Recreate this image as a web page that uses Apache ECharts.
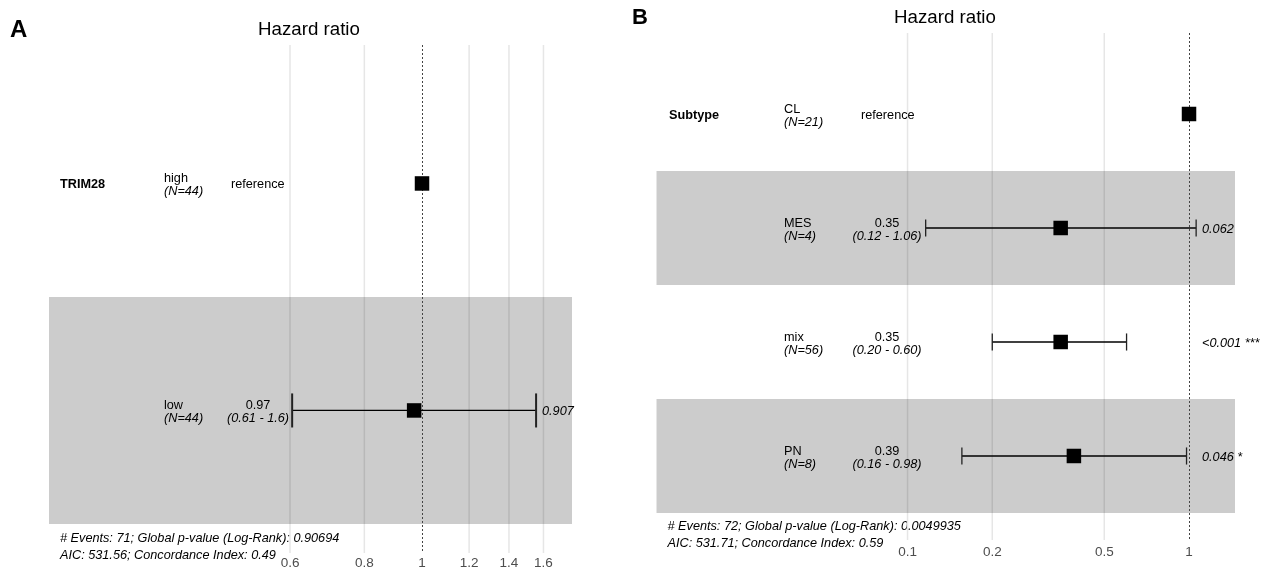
<!DOCTYPE html>
<html>
<head>
<meta charset="utf-8">
<script src="https://cdn.jsdelivr.net/npm/echarts@6/dist/echarts.min.js"></script>
<style>html,body{margin:0;padding:0;background:#fff;}#main{width:1268px;height:572px;}</style>
</head>
<body>
<div id="main"></div>
<script>
// ---------- Panel A data ----------
const aVariable = 'TRIM28';
const aLevels = ['high', 'low'];
const aN = ['(N=44)', '(N=44)'];
const aHR = [1, 0.97];
const aLower = [null, 0.605];
const aUpper = [null, 1.555];
const aEstLabel = ['reference', '0.97'];
const aCILabel = ['', '(0.61 - 1.6)'];
const aPLabel = ['', '0.907'];
const aTicks = [0.6, 0.8, 1, 1.2, 1.4, 1.6];
const aTickLabels = ['0.6', '0.8', '1', '1.2', '1.4', '1.6'];
const aFooter = ['# Events: 71; Global p-value (Log-Rank): 0.90694', 'AIC: 531.56; Concordance Index: 0.49'];

// ---------- Panel B data ----------
const bVariable = 'Subtype';
const bLevels = ['CL', 'MES', 'mix', 'PN'];
const bN = ['(N=21)', '(N=4)', '(N=56)', '(N=8)'];
const bHR = [1, 0.35, 0.35, 0.39];
const bLower = [null, 0.116, 0.20, 0.156];
const bUpper = [null, 1.06, 0.60, 0.98];
const bEstLabel = ['reference', '0.35', '0.35', '0.39'];
const bCILabel = ['', '(0.12 - 1.06)', '(0.20 - 0.60)', '(0.16 - 0.98)'];
const bPLabel = ['', '0.062', '<0.001 ***', '0.046 *'];
const bTicks = [0.1, 0.2, 0.5, 1];
const bTickLabels = ['0.1', '0.2', '0.5', '1'];
const bFooter = ['# Events: 72; Global p-value (Log-Rank): 0.0049935', 'AIC: 531.71; Concordance Index: 0.59'];

const FONT = '"Liberation Sans", Arial, Helvetica, sans-serif';
const SMALL = 12.7;

function txt(text, x, y, opt) {
  opt = opt || {};
  return {
    type: 'text',
    style: {
      text: text, x: x, y: y,
      fill: opt.fill || '#000',
      fontSize: opt.size || SMALL,
      fontFamily: FONT,
      fontStyle: opt.italic ? 'italic' : 'normal',
      fontWeight: opt.bold ? 'bold' : 'normal',
      align: opt.align || 'left', verticalAlign: 'middle',
      textAlign: opt.align || 'left', textVerticalAlign: 'middle'
    }
  };
}

function buildPanel(idx, P) {
  const series = [];
  const rows = P.levels.map((_, i) => i + 1);
  // gridlines + tick labels
  series.push({
    type: 'custom', xAxisIndex: idx, yAxisIndex: idx, z: 1, silent: true, clip: false,
    data: P.ticks.map(v => [v, 1]),
    encode: { x: 0, y: 1 },
    renderItem: function (params, api) {
      const cs = params.coordSys;
      const v = api.value(0);
      const x = api.coord([v, 1])[0];
      const ch = [];
      if (v !== 1) {
        ch.push({ type: 'line', shape: { x1: x, y1: cs.y, x2: x, y2: cs.y + cs.height },
          style: { stroke: '#e6e6e6', lineWidth: 1.5 } });
      }
      ch.push(txt(P.tickLabels[params.dataIndex], x, cs.y + cs.height + P.tickDy,
        { size: 13.5, fill: '#4d4d4d', align: 'center' }));
      return { type: 'group', children: ch };
    }
  });
  // shaded bands (alternate rows)
  series.push({
    type: 'custom', xAxisIndex: idx, yAxisIndex: idx, z: 2, silent: true, clip: false,
    data: rows.filter(r => r % 2 === 0).map(r => [1, r]),
    encode: { x: 0, y: 1 },
    renderItem: function (params, api) {
      const cs = params.coordSys;
      const r = api.value(1);
      const y0 = api.coord([1, r - 0.5])[1];
      const y1 = api.coord([1, r + 0.5])[1];
      return { type: 'rect', shape: { x: cs.x, y: Math.min(y0, y1), width: cs.width, height: Math.abs(y1 - y0) },
        style: { fill: 'rgba(0,0,0,0.2)' } };
    }
  });
  // reference line at HR = 1
  series.push({
    type: 'custom', xAxisIndex: idx, yAxisIndex: idx, z: 3, silent: true, clip: false,
    data: [[1, 1]],
    encode: { x: 0, y: 1 },
    renderItem: function (params, api) {
      const cs = params.coordSys;
      const x = Math.round(api.coord([api.value(0), 1])[0]) + 0.5;
      return { type: 'line', shape: { x1: x, y1: cs.y, x2: x, y2: cs.y + cs.height },
        style: { stroke: '#444', lineWidth: 1, lineDash: [2, 2] } };
    }
  });
  // error bars
  const ebData = [];
  rows.forEach((r, i) => { if (P.lower[i] != null) ebData.push([P.lower[i], P.upper[i], r]); });
  series.push({
    type: 'custom', xAxisIndex: idx, yAxisIndex: idx, z: 4, silent: true, clip: false,
    data: ebData,
    encode: { x: [0, 1], y: 2 },
    renderItem: function (params, api) {
      const lo = api.value(0), hi = api.value(1), r = api.value(2);
      const p1 = api.coord([lo, r]);
      const p2 = api.coord([hi, r]);
      const ya = api.coord([1, r - 0.075])[1];
      const yb = api.coord([1, r + 0.075])[1];
      const st = { stroke: '#000', lineWidth: 1.3 };
      const cap = { stroke: '#222', lineWidth: P.capWidth };
      return { type: 'group', children: [
        { type: 'line', shape: { x1: p1[0], y1: p1[1], x2: p2[0], y2: p2[1] }, style: st },
        { type: 'line', shape: { x1: p1[0], y1: ya, x2: p1[0], y2: yb }, style: cap },
        { type: 'line', shape: { x1: p2[0], y1: ya, x2: p2[0], y2: yb }, style: cap }
      ] };
    }
  });
  // point estimates
  series.push({
    type: 'scatter', xAxisIndex: idx, yAxisIndex: idx, z: 5, silent: true,
    symbol: 'rect', symbolSize: 14.5,
    itemStyle: { color: '#000', opacity: 1 },
    data: P.hr.map((v, i) => [v, rows[i]])
  });
  // table text
  series.push({
    type: 'custom', xAxisIndex: idx, yAxisIndex: idx, z: 6, silent: true, clip: false,
    data: rows.map(r => [1, r]),
    encode: { x: 0, y: 1 },
    renderItem: function (params, api) {
      const cs = params.coordSys;
      const i = params.dataIndex;
      const y = api.coord([1, api.value(1)])[1];
      const L = P.layout;
      const ch = [];
      if (i === 0) ch.push(txt(P.variable, cs.x + L.varX, y + 1.5, { bold: true }));
      ch.push(txt(P.levels[i], cs.x + L.levelX, y - 4.5));
      ch.push(txt(P.n[i], cs.x + L.levelX, y + 8, { italic: true }));
      if (P.lower[i] == null) {
        ch.push(txt(P.est[i], cs.x + L.refX, y + 1.5));
      } else {
        ch.push(txt(P.est[i], cs.x + L.estX, y - 4.5, { align: 'center' }));
        ch.push(txt(P.ci[i], cs.x + L.estX, y + 8, { align: 'center', italic: true }));
        ch.push(txt(P.p[i], cs.x + L.pX, y + 1.5, { italic: true }));
      }
      return { type: 'group', children: ch };
    }
  });
  return series;
}

const panelA = {
  variable: aVariable, levels: aLevels, n: aN, hr: aHR, lower: aLower, upper: aUpper,
  est: aEstLabel, ci: aCILabel, p: aPLabel, ticks: aTicks, tickLabels: aTickLabels,
  tickDy: 10, capWidth: 2,
  layout: { varX: 11, levelX: 115, refX: 182, estX: 209, pX: 493 }
};
const panelB = {
  variable: bVariable, levels: bLevels, n: bN, hr: bHR, lower: bLower, upper: bUpper,
  est: bEstLabel, ci: bCILabel, p: bPLabel, ticks: bTicks, tickLabels: bTickLabels,
  tickDy: 12.5, capWidth: 1.3,
  layout: { varX: 12.5, levelX: 127.5, refX: 204.5, estX: 230.5, pX: 545.5 }
};

const hiddenAxis = { show: false, axisLine: { show: false }, axisTick: { show: false }, axisLabel: { show: false }, splitLine: { show: false } };

const option = {
  animation: false,
  backgroundColor: '#fff',
  grid: [
    { left: 49, top: 45, width: 523, height: 508 },
    { left: 656.5, top: 33, width: 578.5, height: 507 }
  ],
  xAxis: [
    Object.assign({ type: 'log', logBase: 10, gridIndex: 0, min: 0.2361, max: 1.7868 }, hiddenAxis),
    Object.assign({ type: 'log', logBase: 10, gridIndex: 1, min: 0.01283, max: 1.4567 }, hiddenAxis)
  ],
  yAxis: [
    Object.assign({ type: 'value', gridIndex: 0, min: 0.39, max: 2.628, inverse: true }, hiddenAxis),
    Object.assign({ type: 'value', gridIndex: 1, min: 0.2895, max: 4.737, inverse: true }, hiddenAxis)
  ],
  graphic: [
    Object.assign(txt('A', 10, 30, { bold: true, size: 24 }), { x: 0, y: 0 }),
    Object.assign(txt('Hazard ratio', 309, 29.5, { size: 18.7, align: 'center' }), { x: 0, y: 0 }),
    Object.assign(txt(aFooter[0], 60, 538, { italic: true }), { x: 0, y: 0 }),
    Object.assign(txt(aFooter[1], 60, 555, { italic: true }), { x: 0, y: 0 }),
    Object.assign(txt('B', 632, 18, { bold: true, size: 22 }), { x: 0, y: 0 }),
    Object.assign(txt('Hazard ratio', 945, 17.5, { size: 18.7, align: 'center' }), { x: 0, y: 0 }),
    Object.assign(txt(bFooter[0], 667.5, 526, { italic: true }), { x: 0, y: 0 }),
    Object.assign(txt(bFooter[1], 667.5, 543, { italic: true }), { x: 0, y: 0 })
  ],
  series: buildPanel(0, panelA).concat(buildPanel(1, panelB))
};

const chart = echarts.init(document.getElementById('main'), null, { renderer: 'canvas' });
chart.setOption(option);
</script>
</body>
</html>
